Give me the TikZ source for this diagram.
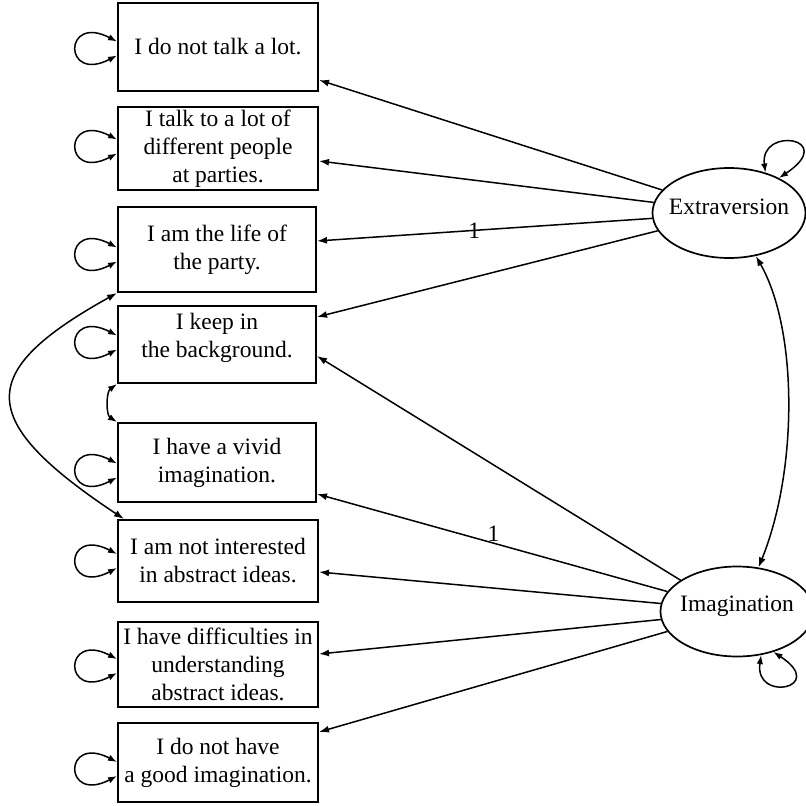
\documentclass[tikz,border=0pt]{standalone}
\usepackage{fontspec}
\setmainfont{Liberation Serif}
\usetikzlibrary{arrows.meta,shapes.geometric}
\tikzset{
  item/.style={draw, line width=2pt, rectangle, inner sep=0pt, align=center,
    font=\fontsize{23.5}{28}\selectfont},
  latent/.style={draw, line width=1.7pt, ellipse, inner sep=0pt,
    minimum width=153pt, minimum height=90pt, font=\fontsize{23.5}{28}\selectfont},
  path/.style={line width=1.5pt, -{Latex[length=10pt,width=7pt]}},
  twoway/.style={line width=1.5pt, {Latex[length=10pt,width=7pt]}-{Latex[length=10pt,width=7pt]}},
  err/.style={line width=1.5pt, {Latex[length=9pt,width=6.5pt]}-{Latex[length=9pt,width=6.5pt]}},
  coef/.style={font=\fontsize{23.5}{28}\selectfont, inner sep=1pt}
}
\begin{document}
\begin{tikzpicture}[x=1pt,y=-1pt]
\useasboundingbox (0,0) rectangle (806,806);

% observed items
\node[item, minimum width=200pt, minimum height=88pt] (b1) at (218,47) {I do not talk a lot.};
\node[item, minimum width=200pt, minimum height=83pt] (b2) at (218,148.5) {I talk to a lot of\\different people\\at parties.};
\node[item, minimum width=198pt, minimum height=85pt] (b3) at (217,249.5) {I am the life of\\the party.};
\node[item, minimum width=198pt, minimum height=77pt, text depth=19pt] (b4) at (217,344.5) {I keep in\\the background.};
\node[item, minimum width=198pt, minimum height=79pt] (b5) at (217,462.5) {I have a vivid\\imagination.};
\node[item, minimum width=200pt, minimum height=82pt] (b6) at (218,561) {I am not interested\\in abstract ideas.};
\node[item, minimum width=200pt, minimum height=85pt] (b7) at (218,664.5) {I have difficulties in\\understanding\\abstract ideas.};
\node[item, minimum width=200pt, minimum height=79pt] (b8) at (218,762.5) {I do not have\\a good imagination.};

% latent variables
\node[latent] (E) at (729,213) {\raisebox{-1pt}[0pt][0pt]{\makebox[0pt]{Extraversion}}};
\node[latent] (I) at (737,611.5) {\raisebox{0.5pt}[0pt][0pt]{\makebox[0pt]{Imagination}}};

% loadings Extraversion
\draw[path] (E.161.8) -- (b1.east |- 0,80);
\draw[path] (E.172.5) -- (b2.east |- 0,161);
\draw[path] (E.184.5) -- node[coef, pos=0.531] {1} (b3.east |- 0,241);
\draw[path] (E.194.8) -- (b4.east |- 0,317);

% loadings Imagination
\draw[path] (I.151.5) -- (b4.east |- 0,356);
\draw[path] (I.164.8) -- node[coef, pos=0.496, anchor=south] {1} (b5.east |- 0,494);
\draw[path] (I.174) -- (b6.east |- 0,572);
\draw[path] (I.186.8) -- (b7.east |- 0,654);
\draw[path] (I.196.7) -- (b8.east |- 0,732);

% error variances of items
\draw[err] (b1.west |- 0,41.5) .. controls +(-54,-28) and +(-54,28) .. (b1.west |- 0,55.5);
\draw[err] (b2.west |- 0,139.5) .. controls +(-54,-28) and +(-54,28) .. (b2.west |- 0,153.5);
\draw[err] (b3.west |- 0,247.5) .. controls +(-54,-28) and +(-54,28) .. (b3.west |- 0,261.5);
\draw[err] (b4.west |- 0,335.5) .. controls +(-54,-28) and +(-54,28) .. (b4.west |- 0,349.5);
\draw[err] (b5.west |- 0,463.5) .. controls +(-54,-28) and +(-54,28) .. (b5.west |- 0,477.5);
\draw[err] (b6.west |- 0,554) .. controls +(-54,-28) and +(-54,28) .. (b6.west |- 0,568);
\draw[err] (b7.west |- 0,659) .. controls +(-54,-28) and +(-54,28) .. (b7.west |- 0,673);
\draw[err] (b8.west |- 0,762) .. controls +(-54,-28) and +(-54,28) .. (b8.west |- 0,776);

% latent variances
\draw[err] (E.48) .. controls +(-6,-47) and +(60,-40) .. (E.35);
\draw[err] (I.-61.5) .. controls +(-7,48) and +(55,36) .. (I.-48.5);

% covariances
\draw[twoway] (E.-58) .. controls (798,330) and (798,470) .. (I.64);
\draw[twoway] (b3.south west) .. controls (-25,372) and (-25,420) .. ([xshift=7pt]b6.north west);
\draw[err] (b4.south west) .. controls (106,392) and (106,415) .. (b5.north west);
\end{tikzpicture}
\end{document}
